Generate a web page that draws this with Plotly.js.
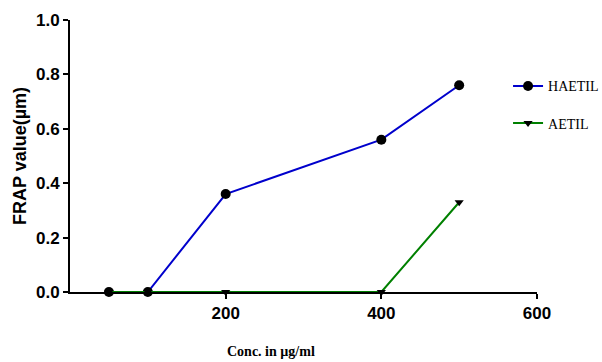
<!DOCTYPE html>
<html>
<head>
<meta charset="utf-8">
<script src="https://cdn.plot.ly/plotly-3.0.1.min.js"></script>
<style>html,body{margin:0;padding:0;background:#fff;}#chart{width:602px;height:362px;}</style>
</head>
<body>
<div id="chart"></div>
<script>
const conc = [50, 100, 200, 400, 500];
const haetil = [0, 0, 0.36, 0.56, 0.76];
const aetil = [0, 0, 0, 0, 0.33];
const xTicks = [200, 400, 600];
const yTicks = [0, 0.2, 0.4, 0.6, 0.8, 1.0];
const yTickLabels = ["0.0", "0.2", "0.4", "0.6", "0.8", "1.0"];

const traces = [
  {x: conc, y: haetil, name: "HAETIL", mode: "lines+markers", legendgroup: "a",
   line: {color: "#0000cc", width: 2}, marker: {color: "#000", symbol: "circle", size: 10}, cliponaxis: false},
  {x: conc, y: aetil, name: "AETIL", mode: "lines+markers", legendgroup: "b",
   line: {color: "#008000", width: 2}, marker: {color: "#000", symbol: "triangle-down", size: 8}, cliponaxis: false}
];

const layout = {
  width: 602, height: 362,
  margin: {l: 70, r: 65, t: 20, b: 70, autoexpand: false},
  paper_bgcolor: "#fff", plot_bgcolor: "#fff",
  showlegend: true,
  legend: {x: 0.938, xanchor: "left", y: 0.815, yanchor: "top", font: {family: "Liberation Serif, Times New Roman, serif", size: 14, color: "#000"},
           tracegroupgap: 16, bgcolor: "rgba(0,0,0,0)"},
  xaxis: {range: [0, 600], tickvals: xTicks, showgrid: false, zeroline: false, showline: true, linecolor: "#000", linewidth: 2,
          ticks: "outside", ticklen: 5, tickwidth: 2, tickcolor: "#000",
          tickfont: {family: "Liberation Sans, Arial, sans-serif", size: 17, color: "#000", weight: "bold"}},
  yaxis: {range: [0, 1], tickvals: yTicks, ticktext: yTickLabels, showgrid: false, zeroline: false, showline: true, linecolor: "#000", linewidth: 2,
          ticks: "outside", ticklen: 5, tickwidth: 2, tickcolor: "#000",
          tickfont: {family: "Liberation Sans, Arial, sans-serif", size: 17, color: "#000", weight: "bold"},
          title: {text: "FRAP value(µm)", standoff: 5, font: {family: "Liberation Sans, Arial, sans-serif", size: 18, color: "#000", weight: "bold"}}},
  annotations: [{text: "Conc. in µg/ml", xref: "paper", yref: "paper", x: (271 - 70) / 467, y: -0.22, xanchor: "center", yanchor: "middle",
                 showarrow: false, font: {family: "Liberation Serif, Times New Roman, serif", size: 14, color: "#000", weight: "bold"}}]
};

Plotly.newPlot("chart", traces, layout, {displayModeBar: false, staticPlot: true});
</script>
</body>
</html>
